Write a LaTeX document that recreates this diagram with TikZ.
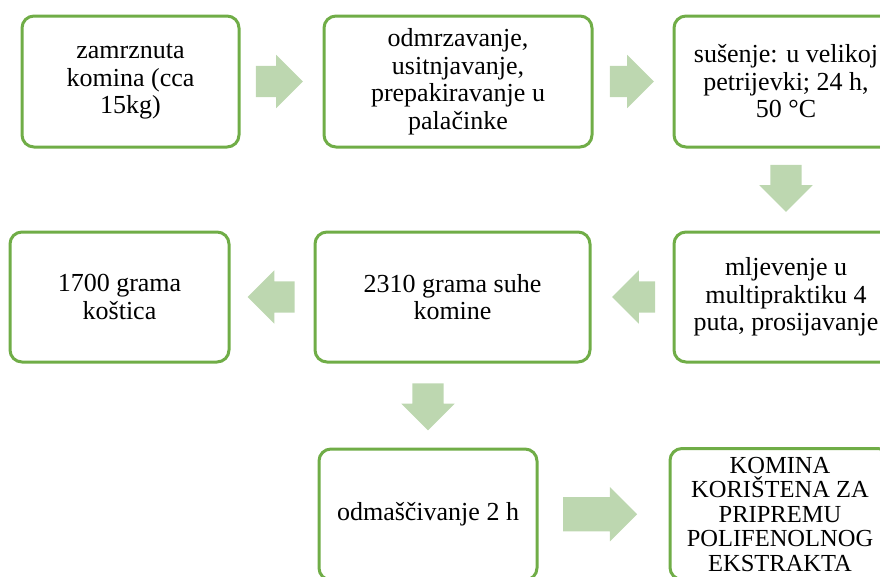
\documentclass[tikz,border=0pt]{standalone}
\usepackage{fontspec}
\setmainfont{Liberation Serif}
\usetikzlibrary{shapes.arrows,calc}
\definecolor{stepgreen}{RGB}{112,173,71}
\definecolor{flowgreen}{RGB}{189,215,176}

\begin{document}
\begin{tikzpicture}[x=1pt,y=-1pt,
        stepbox/.style={draw=stepgreen,line width=3pt,rounded corners=12pt,fill=white,
            align=center,inner sep=3pt,minimum height=131pt,
            font=\fontsize{26}{27.5}\selectfont},
        flow/.style={single arrow,fill=flowgreen,draw=none,inner xsep=0pt,inner ysep=15.5pt,
            minimum width=53pt,minimum height=47pt,
            single arrow head extend=11pt,single arrow tip angle=90}]
        \useasboundingbox (0,0) rectangle (880,576);
        \clip (0,0) rectangle (880,576);
        % first row
        \node [stepbox,minimum width=217pt] (frozen) at (130.5,81.5) {zamrznuta\\komina (cca\\15kg)};
        \node [stepbox,minimum width=268pt] (thaw) at (458,81.5) {odmrzavanje,\\usitnjavanje,\\prepakiravanje u\\palačinke};
        \node [stepbox,minimum width=224pt] (dry) at (786,81.5) {sušenje: u velikoj\\petrijevki; 24 h,\\50 °C};
        % second row
        \node [stepbox,minimum width=224pt,minimum height=130pt] (mill) at (786,297) {mljevenje u\\multipraktiku 4\\puta, prosijavanje};
        \node [stepbox,minimum width=275pt,minimum height=130pt] (drymass) at (452.5,297) {2310 grama suhe\\komine};
        \node [stepbox,minimum width=219pt,minimum height=130pt] (stones) at (119.5,297) {1700 grama\\koštica};
        % third row
        \node [stepbox,minimum width=218pt] (defat) at (428,514.5) {odmaščivanje 2 h};
        \node [stepbox,minimum width=220pt,font=\fontsize{24.5}{24.5}\selectfont] (extract) at (780,514) {KOMINA\\KORIŠTENA ZA\\PRIPREMU\\POLIFENOLNOG\\EKSTRAKTA};
        % block arrows between the steps (node centre sits on the shaft)
        \node [flow] (f1) at ($(frozen.east)!.5!(thaw.west)+(-10,0)$) {};
        \node [flow,minimum height=44pt] (f2) at ($(thaw.east)!.5!(dry.west)+(-9,0)$) {};
        \node [flow,rotate=-90,minimum width=52pt] (f3) at ($(dry.south)!.5!(mill.north)+(0,-9)$) {};
        \node [flow,rotate=180,minimum width=51pt,minimum height=43pt] (f4) at ($(drymass.east)!.5!(mill.west)+(9.5,0)$) {};
        \node [flow,rotate=180] (f5) at ($(stones.east)!.5!(drymass.west)+(7,0)$) {};
        \node [flow,rotate=-90] (f6) at ($(drymass.south -| defat.north)!.5!(defat.north)+(0,-6.5)$) {};
        \node [flow,inner ysep=17pt,minimum width=54pt,minimum height=74pt,single arrow head extend=10pt] (f7) at ($(defat.east)!.5!(extract.west)+(-12,0)$) {};
\end{tikzpicture}
\end{document}
